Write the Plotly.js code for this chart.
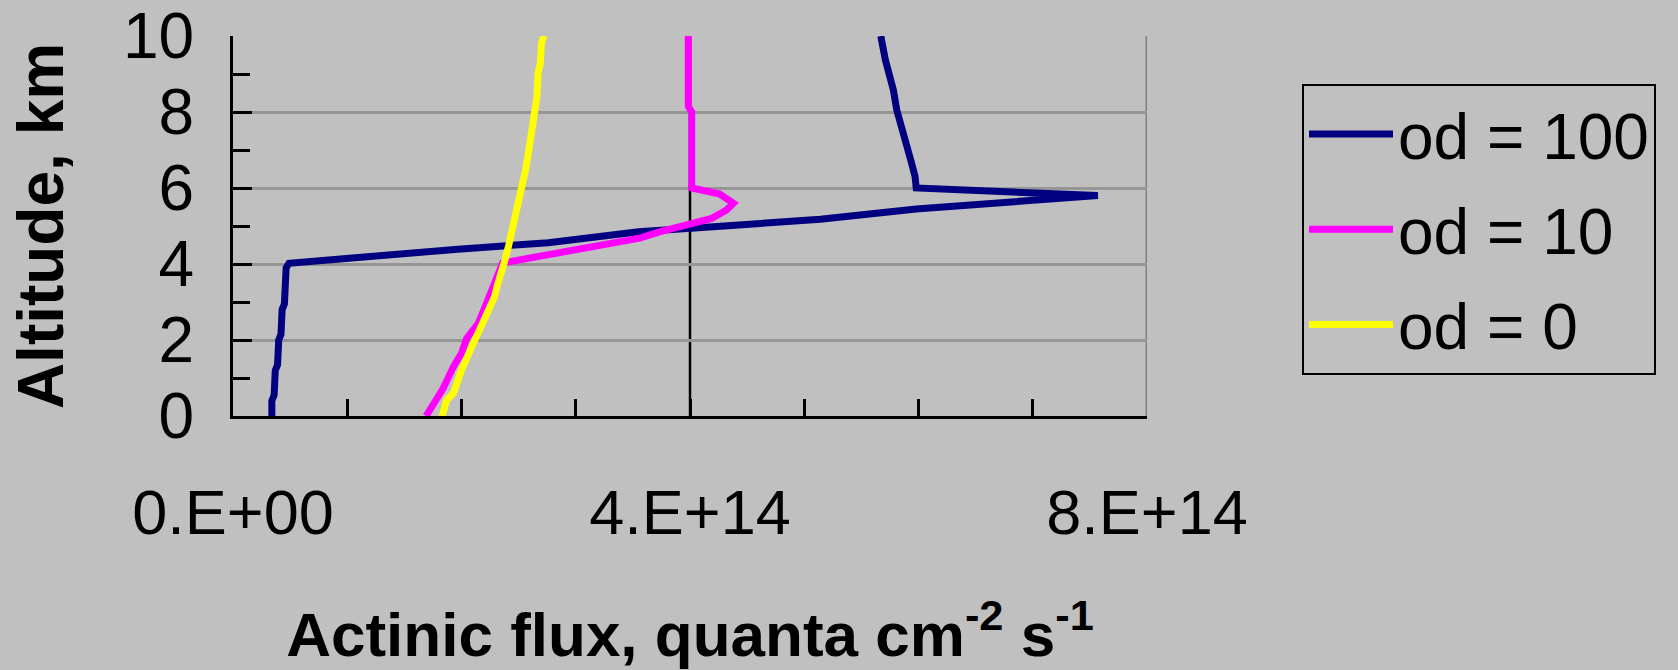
<!DOCTYPE html>
<html>
<head>
<meta charset="utf-8">
<script src="https://cdn.plot.ly/plotly-3.0.1.min.js"></script>
<style>html,body{margin:0;padding:0;background:#c0c0c0;}</style>
</head>
<body>
<div id="chart" style="width:1678px;height:670px;"></div>
<script>
// Altitude (km) and actinic flux (quanta cm-2 s-1)
const alt_od100 = [0.0, 0.4, 0.55, 1.2, 1.35, 2.0, 2.15, 2.8, 2.95, 3.8, 3.9, 4.02, 4.22, 4.39, 4.56, 4.85, 5.0, 5.18, 5.45, 5.64, 5.8, 6.0, 6.3, 6.65, 7.09, 7.53, 8.05, 8.58, 9.02, 9.37, 10.0];
const flux_od100 = [0.34e14, 0.34e14, 0.36e14, 0.37e14, 0.39e14, 0.40e14, 0.42e14, 0.43e14, 0.45e14, 0.455e14, 0.465e14, 0.49e14, 1.21e14, 1.97e14, 2.76e14, 3.55e14, 4.3e14, 5.14e14, 5.98e14, 6.83e14, 7.57e14, 5.98e14, 5.97e14, 5.94e14, 5.90e14, 5.85e14, 5.81e14, 5.78e14, 5.74e14, 5.71e14, 5.67e14];

const alt_od10 = [0.0, 0.73, 1.3, 1.65, 2.04, 2.44, 2.97, 3.4, 3.8, 4.03, 4.05, 4.24, 4.41, 4.59, 4.68, 4.85, 5.03, 5.2, 5.42, 5.6, 5.84, 6.0, 8.0, 8.15, 10.0];
const flux_od10 = [1.69e14, 1.84e14, 1.93e14, 2.0e14, 2.045e14, 2.147e14, 2.22e14, 2.28e14, 2.32e14, 2.36e14, 2.40e14, 2.76e14, 3.10e14, 3.45e14, 3.56e14, 3.74e14, 4.0e14, 4.19e14, 4.32e14, 4.38e14, 4.26e14, 4.015e14, 4.015e14, 3.985e14, 3.985e14];

const alt_od0 = [0.0, 0.42, 0.6, 1.21, 1.82, 2.26, 2.83, 3.14, 3.4, 3.75, 4.1, 4.45, 4.98, 5.6, 5.95, 6.47, 6.91, 7.53, 8.05, 8.4, 9.02, 9.28, 9.8, 10.0];
const flux_od0 = [1.83e14, 1.87e14, 1.93e14, 2.0e14, 2.09e14, 2.16e14, 2.235e14, 2.29e14, 2.31e14, 2.35e14, 2.38e14, 2.41e14, 2.45e14, 2.50e14, 2.53e14, 2.56e14, 2.585e14, 2.615e14, 2.635e14, 2.66e14, 2.67e14, 2.69e14, 2.70e14, 2.72e14];

const seriesNames = ['od = 100', 'od = 10', 'od = 0'];
const xTickVals = [0, 4e14, 8e14];
const xTickText = ['0.E+00', '4.E+14', '8.E+14'];
const refLineX = 4e14;
const xMax = 8e14;
const yMax = 10;

const FONT = 'Arial, "Liberation Sans", Helvetica, sans-serif';
const colors = ['#000080', '#ff00ff', '#ffff00'];

const traces = [
  {x: flux_od100, y: alt_od100, name: seriesNames[0], legendgroup: 'a'},
  {x: flux_od10, y: alt_od10, name: seriesNames[1], legendgroup: 'b'},
  {x: flux_od0, y: alt_od0, name: seriesNames[2], legendgroup: 'c'}
].map((t, i) => Object.assign(t, {
  type: 'scatter', mode: 'lines',
  line: {color: colors[i], width: 7},
  hoverinfo: 'x+y+name'
}));

const layout = {
  width: 1678, height: 670,
  paper_bgcolor: '#c0c0c0', plot_bgcolor: '#c0c0c0',
  margin: {l: 233, r: 531, t: 36, b: 254, pad: 0},
  font: {family: FONT, color: '#000', size: 64},
  showlegend: true,
  legend: {
    xref: 'container', yref: 'container',
    x: 1302 / 1678, y: 1 - 84 / 670, xanchor: 'left', yanchor: 'top',
    bgcolor: '#c0c0c0', bordercolor: '#000', borderwidth: 2,
    font: {family: FONT, size: 64, color: '#000'},
    tracegroupgap: 9, itemwidth: 84
  },
  xaxis: {
    range: [0, xMax], showgrid: false, zeroline: false,
    showline: true, linecolor: '#000', linewidth: 3,
    tickmode: 'array', tickvals: xTickVals, ticktext: xTickText,
    ticks: 'inside', ticklen: 17, tickwidth: 3, tickcolor: '#000',
    minor: {dtick: 1e14, ticks: 'inside', ticklen: 17, tickwidth: 3, tickcolor: '#000', showgrid: false},
    tickfont: {family: FONT, size: 63},
    ticklabelstandoff: 39,
    title: {text: 'Actinic flux, quanta cm<sup>-2</sup> s<sup>-1</sup>', font: {family: FONT, size: 62, weight: 700}, standoff: 68},
    fixedrange: true
  },
  yaxis: {
    range: [0, yMax], dtick: 2, zeroline: false,
    showgrid: true, gridcolor: '#969696', gridwidth: 3,
    showline: true, linecolor: '#000', linewidth: 3,
    ticks: 'inside', ticklen: 19, tickwidth: 3, tickcolor: '#000',
    minor: {dtick: 1, ticks: 'inside', ticklen: 17, tickwidth: 3, tickcolor: '#000', showgrid: false},
    tickfont: {family: FONT, size: 64},
    ticklabelstandoff: 23,
    title: {text: 'Altitude, km', font: {family: FONT, size: 64, weight: 700}, standoff: 39},
    fixedrange: true
  },
  shapes: [
    {type: 'line', xref: 'x', yref: 'y', x0: refLineX, x1: refLineX, y0: 0, y1: yMax, line: {color: '#000', width: 2.5}, layer: 'below'},
    {type: 'line', xref: 'x', yref: 'y', x0: xMax, x1: xMax, y0: 0, y1: yMax, line: {color: '#808080', width: 3}, layer: 'below'}
  ]
};

Plotly.newPlot('chart', traces, layout, {displayModeBar: false, staticPlot: true});
</script>
</body>
</html>
